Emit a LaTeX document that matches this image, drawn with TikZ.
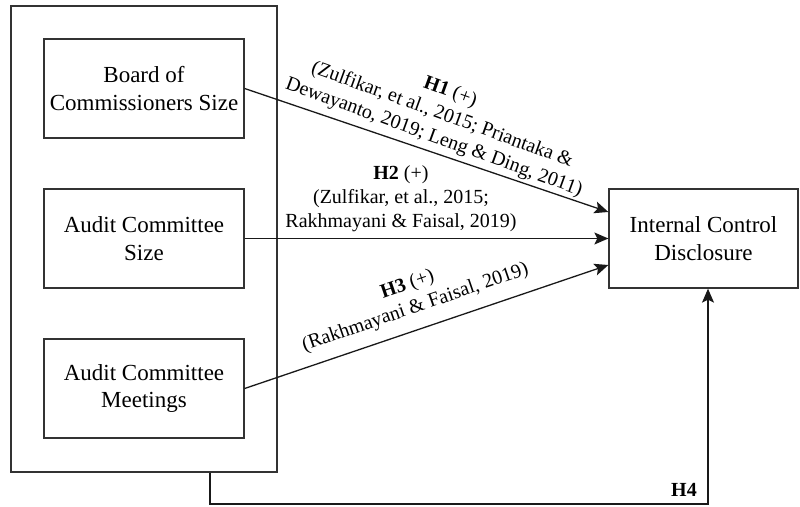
\documentclass[tikz,border=0pt]{standalone}
\usepackage{fontspec}
\setmainfont{Liberation Serif}
\usetikzlibrary{arrows.meta}
\tikzset{
  var/.style={draw=black!80, line width=1.3pt, minimum width=200pt, minimum height=99pt,
    align=center, font=\fontsize{23}{27.6}\selectfont, inner sep=0pt},
  lbl/.style={align=center, font=\fontsize{20}{24}\selectfont, inner sep=0pt},
  arr/.style={draw=black!90, line width=1.3pt, -{Stealth[length=14pt,width=12pt,inset=3pt]}}
}
\begin{document}
\begin{tikzpicture}[x=1pt,y=-1pt]
  \useasboundingbox (0,0) rectangle (800,506);
  \draw
    (144,239) node[var, minimum width=266pt, minimum height=466pt] (grp){}
    (144,88.5) node[var] (bcs){Board of\\Commissioners Size}
    (144,238.5) node[var] (acs){Audit Committee\\Size}
    (144,388.5) node[var] (acm){Audit Committee\\Meetings}
    (703.5,238.5) node[var, minimum width=189pt] (icd){Internal Control\\Disclosure};
  \coordinate (h4) at (210,504);
  \begin{scope}
    \draw[arr] (bcs.east) to ([yshift=26.5pt]icd.west);
    \draw[arr] (acs.east) to (icd.west);
    \draw[arr] (acm.east) to ([yshift=-26.5pt]icd.west);
    \draw[arr] (grp.south -| h4) -- (h4) -| ([xshift=4.5pt]icd.south);
  \end{scope}
  \node[lbl, rotate=-20] (h1) at (442,115)
    {\textbf{H1} (+)\\(Zulfikar, et al., 2015; Priantaka \&\\Dewayanto, 2019; Leng \& Ding, 2011)};
  \node[lbl] (h2) at (401,199)
    {\textbf{H2} (+)\\(Zulfikar, et al., 2015;\\Rakhmayani \& Faisal, 2019)};
  \node[lbl, rotate=19] (h3) at (411.5,296.5)
    {\textbf{H3} (+)\\(Rakhmayani \& Faisal, 2019)};
  \node[lbl, font=\fontsize{20}{24}\selectfont\bfseries] (h4l) at (684,490) {H4};
\end{tikzpicture}
\end{document}
